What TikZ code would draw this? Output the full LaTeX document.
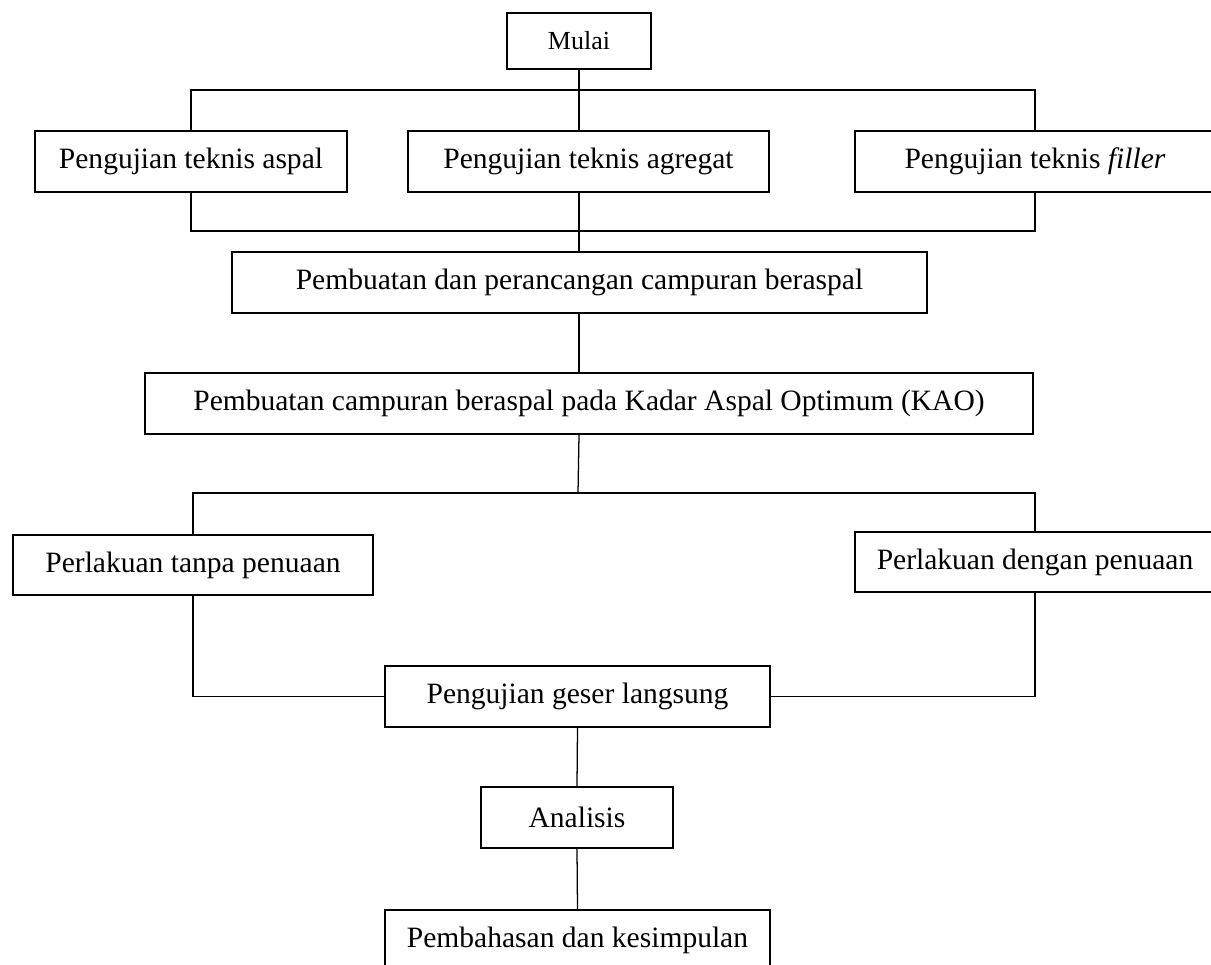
\documentclass[tikz,border=0pt]{standalone}
\usepackage{fontspec}
\setmainfont{Liberation Serif}
\usetikzlibrary{calc}
\tikzset{
  flowbox/.style={rectangle, draw=black, line width=1.2pt, minimum width=#1, minimum height=1.52cm, inner sep=0pt, align=center, font=\fontsize{21}{25}\selectfont},
  flowbox/.default=9cm,
  link/.style={draw=black, line width=0.9pt},
}
\begin{document}
\begin{tikzpicture}[x=0.025cm, y=-0.025cm]
  \useasboundingbox (0,0) rectangle (1211,965);
  % boxes
  \node[flowbox=3.6cm, minimum height=1.4cm, font=\fontsize{18.5}{22}\selectfont] (mulai) at (579,41) {Mulai};
  \node[flowbox=7.8cm] (aspal) at (191,161.5) {Pengujian teknis aspal};
  \node[flowbox=9.025cm] (agregat) at (588.5,161.5) {Pengujian teknis agregat};
  \node[flowbox=9cm] (filler) at (1035,161.5) {Pengujian teknis \textit{filler}};
  \node[flowbox=17.375cm] (pembuatan) at (579.5,282.5) {Pembuatan dan perancangan campuran beraspal};
  \node[flowbox=22.2cm] (kao) at (589,403.5) {Pembuatan campuran beraspal pada Kadar Aspal Optimum (KAO)};
  \node[flowbox=9cm, minimum height=1.5cm] (tanpa) at (193,565) {Perlakuan tanpa penuaan};
  \node[flowbox=9cm, minimum height=1.5cm] (dengan) at (1035,562) {Perlakuan dengan penuaan};
  \node[flowbox=9.625cm] (geser) at (577.5,696.5) {Pengujian geser langsung};
  \node[flowbox=4.8cm] (analisis) at (577,817.5) {Analisis};
  \node[flowbox=9.625cm] (bahas) at (577.5,940.5) {Pembahasan dan kesimpulan};

  % bus points
  \coordinate (busTop) at (578,90);
  \coordinate (busMid) at (578,231);
  \coordinate (busLow) at (578,493);

  % connectors
  \draw[link] (mulai.south) -- (mulai.south |- agregat.north);
  \draw[link] (aspal.north) |- (busTop) -| (filler.north);
  \draw[link] (aspal.south) |- (busMid) -| (filler.south);
  \draw[link] (mulai.south |- agregat.south) -- (mulai.south |- pembuatan.north);
  \draw[link] (mulai.south |- pembuatan.south) -- (mulai.south |- kao.north);
  \draw[link] (mulai.south |- kao.south) -- (busLow);
  \draw[link] (tanpa.north) |- (busLow) -| (dengan.north);
  \draw[link] (tanpa.south) |- (geser.west);
  \draw[link] (dengan.south) |- (geser.east);
  \draw[link] (geser.south) -- (analisis.north);
  \draw[link] (analisis.south) -- (bahas.north);
\end{tikzpicture}
\end{document}
